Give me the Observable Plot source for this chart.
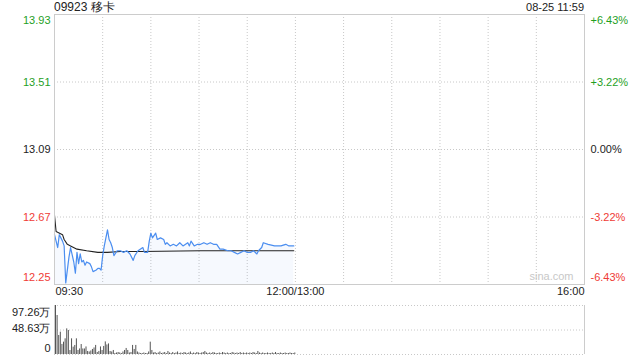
<!DOCTYPE html>
<html><head><meta charset="utf-8">
<script src="https://cdn.jsdelivr.net/npm/d3@7"></script>
<script src="https://cdn.jsdelivr.net/npm/@observablehq/plot@0.6"></script>
<style>
body{margin:0;background:#fff;font-family:"Liberation Sans",Arial,sans-serif;}
#wrap{position:relative;width:640px;height:360px;overflow:hidden;background:#fff}
#price,#vol{position:absolute;left:0}
#price{top:0}
#vol{top:300px}
.t{position:absolute;color:#222;white-space:nowrap}
</style></head><body>
<div id="wrap">
  <div id="price"></div>
  <div id="vol"></div>
  <div class="t" id="title" style="left:54px;top:0px;font-size:12px;line-height:14px"></div>
  <div class="t" id="stamp" style="right:56px;top:1px;font-size:11px;line-height:13px"></div>
</div>
<script>
// ---- data ----
const titleText = "09923 移卡";
const stampText = "08-25 11:59";

// trading minutes since 09:30 (lunch break removed)
const priceMinutes = [0,2,3,5,6,7,9,10,12,13,14,15,16,17,18,19,20,22,23,24,26,27,28,29,30,31,32,33,34,35,36,37,39,40,41,43,45,47,49,50,52,55,56,58,59,60,61,63,64,66,68,69,70,72,74,76,78,80,83,84,85,87,89,91,93,95,97,99,101,103,105,108,110,112,114,116,118,120,122,124,126,127,129,130,133,137,141,144,146,149];
const priceValues = [12.56,12.48,12.56,12.52,12.49,12.26,12.42,12.48,12.39,12.32,12.45,12.38,12.44,12.39,12.40,12.37,12.39,12.38,12.36,12.33,12.34,12.35,12.35,12.34,12.43,12.49,12.54,12.59,12.53,12.51,12.48,12.43,12.46,12.46,12.46,12.45,12.46,12.44,12.40,12.43,12.46,12.48,12.45,12.45,12.52,12.57,12.54,12.57,12.53,12.54,12.53,12.50,12.51,12.49,12.50,12.49,12.51,12.49,12.51,12.49,12.52,12.49,12.50,12.50,12.51,12.50,12.51,12.50,12.50,12.47,12.47,12.46,12.46,12.45,12.44,12.45,12.46,12.45,12.45,12.46,12.44,12.46,12.48,12.51,12.50,12.49,12.49,12.50,12.49,12.49];

const avgMinutes = [0,1,5,6,8,10,14,20,27,33,41,54,91,149];
const avgValues = [12.68,12.58,12.56,12.53,12.50,12.49,12.47,12.46,12.45,12.45,12.455,12.455,12.46,12.46];

// volume per minute (万), index = minute
const volValues = [97.26,77.4,37.7,44.3,20,24.5,31.1,50.9,47.6,7.9,
  31.1,14.6,17.9,31.1,8,11,19.8,11,11,15,
  6,5,7,10,13,18,4,6,15,8,
  16,25,19,21,6,5,8,2,3,4,
  3,2,5,8,12,8,3,4,18,10,
  18,5,3,2,2,3,2,2,5,24.5,
  8,
  3,4,2,3,5,2,3,4,2,6,
  3,2,4,2,3,5,2,3,2,4,
  3,2,3,5,2,3,2,4,3,2,
  3,4,6,3,2,3,2,4,3,2,
  2,3,2,4,3,2,3,2,2,4,
  3,2,3,2,4,2,3,2,3,2,
  3,2,4,3,2,6,3,2,3,2,
  2,3,2,2,3,2,4,2,2,3,
  2,2,3,2,2,3,2,2,3];

const priceTicks = [13.93, 13.51, 13.09, 12.67, 12.25];
const priceTickLabels = ["13.93", "13.51", "13.09", "12.67", "12.25"];
const pctLabels = ["+6.43%", "+3.22%", "0.00%", "-3.22%", "-6.43%"];
const prevClose = 13.09;
const timeTicks = [0, 150, 330];
const timeLabels = ["09:30", "12:00/13:00", "16:00"];
const gridMinutes = [30, 60, 90, 120, 150, 180, 210, 240, 270, 300];
const volTicks = [97.26, 48.63, 0];
const volLabels = ["97.26万", "48.63万", "0"];
const watermark = "sina.com";

// ---- build ----
document.getElementById("title").textContent = titleText;
document.getElementById("stamp").textContent = stampText;

const price = priceMinutes.map((m, i) => ({m, p: priceValues[i]}));
const avg = avgMinutes.map((m, i) => ({m, p: avgValues[i]}));
const vol = volValues.map((v, i) => ({m: i, v}));
const yt = priceTicks.map((v, i) => ({v, label: priceTickLabels[i], pct: pctLabels[i], i}));
const tt = timeTicks.map((m, i) => ({m, label: timeLabels[i], i}));
const vt = volTicks.map((v, i) => ({v, label: volLabels[i], i}));

const GREEN = "#1f9f1f", RED = "#ef3b36";
const col = d => d.v > prevClose ? GREEN : d.v < prevClose ? RED : "#222";
const font = "Liberation Sans, Arial, sans-serif";
const BLUE = "#4b8ef0";
const last = yt.length - 1;

const priceChart = Plot.plot({
  width: 640, height: 300,
  marginTop: 14, marginBottom: 16, marginLeft: 54, marginRight: 56,
  x: {domain: [0, 330], axis: null},
  y: {domain: [12.25, 13.93], axis: null},
  style: {fontFamily: font, fontSize: "11px", background: "transparent", overflow: "visible"},
  marks: [
    Plot.ruleX(gridMinutes, {stroke: "#c8c8c8", strokeDasharray: "1,2"}),
    Plot.ruleY([13.51, 13.09, 12.67], {stroke: "#c8c8c8", strokeDasharray: "1,2"}),
    Plot.areaY(price, {x: "m", y1: 12.25, y2: "p", fill: BLUE, fillOpacity: 0.05}),
    Plot.line(avg, {x: "m", y: "p", stroke: "#222", strokeWidth: 1.1}),
    Plot.line(price, {x: "m", y: "p", stroke: BLUE, strokeWidth: 1.2}),
    Plot.frame({stroke: "#ccc"}),
    // left labels
    Plot.text(yt.filter(d => d.i === 0), {y: "v", text: "label", fill: col, frameAnchor: "left", textAnchor: "end", dx: -4, dy: 6, fontSize: 11}),
    Plot.text(yt.filter(d => d.i > 0 && d.i < last), {y: "v", text: "label", fill: col, frameAnchor: "left", textAnchor: "end", dx: -4, fontSize: 11}),
    Plot.text(yt.filter(d => d.i === last), {y: "v", text: "label", fill: col, frameAnchor: "left", textAnchor: "end", dx: -4, dy: -7, fontSize: 11}),
    // right labels
    Plot.text(yt.filter(d => d.i === 0), {y: "v", text: "pct", fill: col, frameAnchor: "right", textAnchor: "start", dx: 6, dy: 6, fontSize: 11}),
    Plot.text(yt.filter(d => d.i > 0 && d.i < last), {y: "v", text: "pct", fill: col, frameAnchor: "right", textAnchor: "start", dx: 6, fontSize: 11}),
    Plot.text(yt.filter(d => d.i === last), {y: "v", text: "pct", fill: col, frameAnchor: "right", textAnchor: "start", dx: 6, dy: -7, fontSize: 11}),
    // time labels
    Plot.text(tt.filter(d => d.i === 0), {x: "m", text: "label", frameAnchor: "bottom", textAnchor: "start", dx: 1, dy: 10, fill: "#222", fontSize: 11}),
    Plot.text(tt.filter(d => d.i === 1), {x: "m", text: "label", frameAnchor: "bottom", textAnchor: "middle", dy: 10, fill: "#222", fontSize: 11}),
    Plot.text(tt.filter(d => d.i === 2), {x: "m", text: "label", frameAnchor: "bottom", textAnchor: "end", dy: 10, fill: "#222", fontSize: 11}),
    // watermark
    Plot.text([watermark], {frameAnchor: "bottom-right", textAnchor: "end", dx: -11, dy: -5, fill: "#c8c8c8", fontSize: 11})
  ]
});
document.getElementById("price").appendChild(priceChart);

const volChart = Plot.plot({
  width: 640, height: 60,
  marginTop: 5, marginBottom: 6, marginLeft: 54, marginRight: 56,
  x: {domain: [0, 330], axis: null},
  y: {domain: [0, 97.26], axis: null},
  style: {fontFamily: font, fontSize: "11px", background: "transparent", overflow: "visible"},
  marks: [
    Plot.ruleY(volTicks, {stroke: "#c8c8c8", strokeDasharray: "1,2"}),
    Plot.ruleX([0, 330], {stroke: "#ccc"}),
    Plot.ruleX(vol, {x: "m", y1: 0, y2: "v", stroke: "#555", strokeWidth: 1, dx: 1}),
    Plot.text(vt.filter(d => d.i === 0), {y: "v", text: "label", frameAnchor: "left", textAnchor: "end", dx: -4, dy: 7, fill: "#222", fontSize: 11}),
    Plot.text(vt.filter(d => d.i === 1), {y: "v", text: "label", frameAnchor: "left", textAnchor: "end", dx: -4, dy: -2, fill: "#222", fontSize: 11}),
    Plot.text(vt.filter(d => d.i === 2), {y: "v", text: "label", frameAnchor: "left", textAnchor: "end", dx: -4, dy: -6, fill: "#222", fontSize: 11})
  ]
});
document.getElementById("vol").appendChild(volChart);
</script>
</body></html>
